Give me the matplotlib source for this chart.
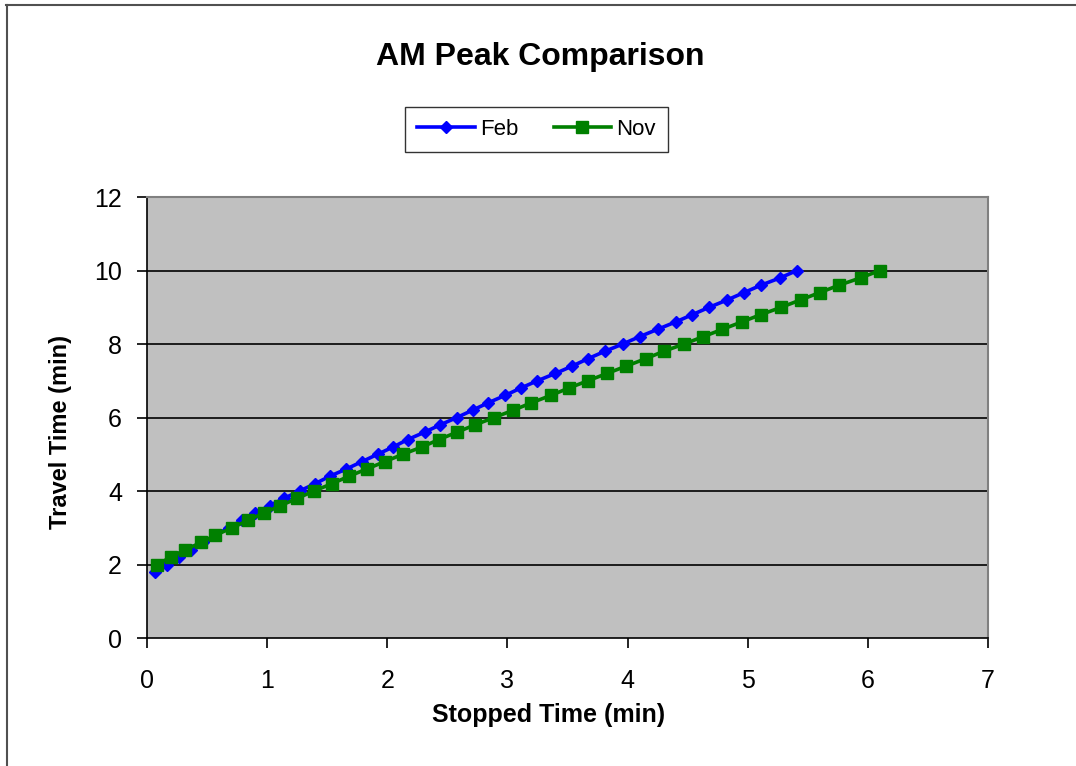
"""
Comparación de hora pico AM: tiempo de viaje vs. tiempo detenido (Feb / Nov).
Estilo hoja de cálculo clásico: fondo gris, cuadrícula horizontal negra.
"""

import matplotlib
matplotlib.use("Agg")
import matplotlib.pyplot as plt  # noqa: E402
from matplotlib.lines import Line2D  # noqa: E402

plt.rcParams["font.family"] = ["Liberation Sans", "DejaVu Sans"]

# --- datos ---
feb_detenido = [0.07, 0.17, 0.27, 0.37, 0.47, 0.57, 0.68, 0.79, 0.90, 1.02,
                1.14, 1.27, 1.40, 1.52, 1.66, 1.79, 1.92, 2.05, 2.17, 2.31,
                2.44, 2.58, 2.71, 2.84, 2.98, 3.11, 3.25, 3.40, 3.54, 3.67,
                3.81, 3.96, 4.10, 4.25, 4.40, 4.54, 4.68, 4.83, 4.97, 5.11,
                5.27, 5.41]
feb_viaje = [1.8, 2.0, 2.2, 2.4, 2.6, 2.8, 3.0, 3.2, 3.4, 3.6,
             3.8, 4.0, 4.2, 4.4, 4.6, 4.8, 5.0, 5.2, 5.4, 5.6,
             5.8, 6.0, 6.2, 6.4, 6.6, 6.8, 7.0, 7.2, 7.4, 7.6,
             7.8, 8.0, 8.2, 8.4, 8.6, 8.8, 9.0, 9.2, 9.4, 9.6,
             9.8, 10.0]

nov_detenido = [0.08, 0.20, 0.32, 0.45, 0.57, 0.71, 0.84, 0.97, 1.11, 1.25,
                1.39, 1.54, 1.68, 1.83, 1.98, 2.13, 2.29, 2.43, 2.58, 2.73,
                2.89, 3.05, 3.20, 3.36, 3.51, 3.67, 3.83, 3.99, 4.15, 4.30,
                4.47, 4.63, 4.79, 4.95, 5.11, 5.28, 5.44, 5.60, 5.76, 5.94,
                6.10]
nov_viaje = [2.0, 2.2, 2.4, 2.6, 2.8, 3.0, 3.2, 3.4, 3.6, 3.8,
             4.0, 4.2, 4.4, 4.6, 4.8, 5.0, 5.2, 5.4, 5.6, 5.8,
             6.0, 6.2, 6.4, 6.6, 6.8, 7.0, 7.2, 7.4, 7.6, 7.8,
             8.0, 8.2, 8.4, 8.6, 8.8, 9.0, 9.2, 9.4, 9.6, 9.8,
             10.0]

ticks_x = [0, 1, 2, 3, 4, 5, 6, 7]
ticks_y = [0, 2, 4, 6, 8, 10, 12]

fig = plt.figure(figsize=(10.76, 7.66), dpi=100)
ax = fig.add_axes([0.1366, 0.1671, 0.9182 - 0.1366, 0.7428 - 0.1671])
ax.set_facecolor("#C0C0C0")

# cuadrícula horizontal
for y in ticks_y[1:-1]:
    ax.axhline(y, color="black", linewidth=1.2, zorder=1)

ax.plot(feb_detenido, feb_viaje, color="#0000FF", linewidth=2.6, marker="D",
        markersize=6, label="Feb", zorder=3)
ax.plot(nov_detenido, nov_viaje, color="#008000", linewidth=2.6, marker="s",
        markersize=8, label="Nov", zorder=4)

ax.set_xlim(0, 7)
ax.set_ylim(0, 12)
ax.set_xticks(ticks_x)
ax.set_yticks(ticks_y)
ax.tick_params(axis="both", direction="out", length=7, width=1.2, labelsize=18,
               colors="black")
ax.tick_params(axis="x", pad=15)
ax.tick_params(axis="y", pad=11)

for lado in ["top", "right"]:
    ax.spines[lado].set_color("#808080")
    ax.spines[lado].set_linewidth(1.5)
for lado in ["left", "bottom"]:
    ax.spines[lado].set_color("black")
    ax.spines[lado].set_linewidth(1.2)

ax.set_xlabel("Stopped Time (min)", fontsize=18, fontweight="bold")
ax.set_ylabel("Travel Time (min)", fontsize=17, fontweight="bold")
ax.xaxis.set_label_coords(0.477, -0.148)
ax.yaxis.set_label_coords(-0.089, 0.467)

fig.text(0.502, 0.925, "AM Peak Comparison", ha="center", va="center",
         fontsize=23, fontweight="bold")

leg = fig.legend(loc="center", bbox_to_anchor=(0.4985, 0.831), ncol=2,
                 fontsize=16, frameon=True, fancybox=False, handlelength=2.6,
                 handletextpad=0.2, columnspacing=1.6, borderpad=0.55)
leg.get_frame().set_edgecolor("black")
leg.get_frame().set_linewidth(1.0)

# marco exterior del gráfico (arriba e izquierda)
fig.add_artist(Line2D([0.006, 1.0], [0.993, 0.993], transform=fig.transFigure,
                      color="#505050", linewidth=1.5))
fig.add_artist(Line2D([0.0065, 0.0065], [0.0, 0.993], transform=fig.transFigure,
                      color="#505050", linewidth=1.5))

fig.savefig("out.png", dpi=100)
plt.close(fig)
